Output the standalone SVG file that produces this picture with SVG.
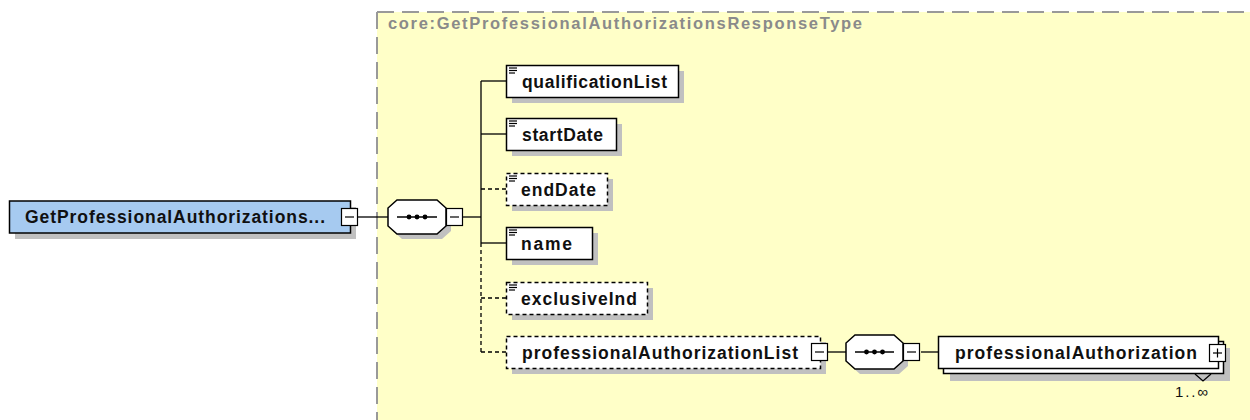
<svg xmlns="http://www.w3.org/2000/svg" width="1250" height="420" viewBox="0 0 1250 420">
  <defs>
    <style>
      .bg { fill: #FFFFC8; }
      .frame { stroke: #999999; stroke-width: 2; stroke-dasharray: 17 8; fill: none; }
      .title { font-family: "Liberation Sans", Arial, sans-serif; font-size: 16.5px; font-weight: bold; fill: #8a8a8a; }
      .shadow { fill: #C0C0C0; }
      .box { fill: #FFFFFF; stroke: #000000; stroke-width: 1.5; }
      .opt { fill: #FFFFFF; stroke: #000000; stroke-width: 1.5; stroke-dasharray: 4 3; }
      .root { fill: #A6CAF0; stroke: #000000; stroke-width: 1.5; }
      .label { font-family: "Liberation Sans", Arial, sans-serif; font-size: 17.5px; font-weight: bold; fill: #101010; }
      .occ { font-family: "Liberation Sans", Arial, sans-serif; font-size: 15px; fill: #101010; }
      .line { stroke: #000000; stroke-width: 1.3; fill: none; }
      .dline { stroke: #000000; stroke-width: 1.3; fill: none; stroke-dasharray: 4 3; }
      .btn { fill: #FFFFFF; stroke: #000000; stroke-width: 1.2; }
      .icon { stroke: #000000; stroke-width: 1.2; }
    </style>
  </defs>

  <!-- complex type container -->
  <g id="type-container">
    <rect class="bg" x="377" y="12" width="880" height="420"/>
    <line class="frame" x1="377" y1="12" x2="1250" y2="12"/>
    <line class="frame" x1="377" y1="12" x2="377" y2="420"/>
    <text class="title" x="388" y="29" textLength="474" lengthAdjust="spacing">core:GetProfessionalAuthorizationsResponseType</text>
  </g>

  <!-- connectors -->
  <g id="connectors">
    <line class="line" x1="358" y1="217" x2="388" y2="217"/>
    <line class="line" x1="463" y1="217" x2="481" y2="217"/>
    <line class="line" x1="481" y1="81" x2="481" y2="243"/>
    <line class="dline" x1="481" y1="243" x2="481" y2="352"/>
    <line class="line" x1="481" y1="81" x2="506" y2="81"/>
    <line class="line" x1="481" y1="134" x2="506" y2="134"/>
    <line class="dline" x1="481" y1="189" x2="506" y2="189"/>
    <line class="line" x1="481" y1="243" x2="506" y2="243"/>
    <line class="dline" x1="481" y1="298" x2="506" y2="298"/>
    <line class="dline" x1="481" y1="352" x2="506" y2="352"/>
    <line class="line" x1="828" y1="352" x2="846" y2="352"/>
    <line class="line" x1="921" y1="352" x2="939" y2="352"/>
  </g>

  <!-- root element -->
  <g id="root">
    <rect class="shadow" x="15" y="207" width="341" height="32"/>
    <rect class="root" x="9.5" y="201" width="341" height="32"/>
    <text class="label" x="25" y="223" textLength="300" lengthAdjust="spacing">GetProfessionalAuthorizations...</text>
    <rect class="btn" x="341.5" y="208.5" width="16" height="17"/>
    <line class="icon" x1="345" y1="217" x2="354" y2="217"/>
  </g>

  <!-- sequence 1 -->
  <g id="sequence1">
    <polygon class="shadow" points="402,205 442,205 451,213 451,231 442,239 402,239 393,231 393,213"/>
    <polygon class="box" points="397,200 437,200 446,208 446,226 437,234 397,234 388,226 388,208"/>
    <line class="line" x1="397" y1="217" x2="437" y2="217"/>
    <circle cx="409" cy="217" r="2.4"/>
    <circle cx="417" cy="217" r="2.4"/>
    <circle cx="425" cy="217" r="2.4"/>
    <rect class="btn" x="446.5" y="208.5" width="16" height="17"/>
    <line class="icon" x1="450" y1="217" x2="459" y2="217"/>
  </g>

  <!-- qualificationList -->
  <g id="qualificationList">
    <rect class="shadow" x="512" y="71" width="172" height="32"/>
    <rect class="box" x="506.5" y="65.5" width="172" height="32"/>
    <line class="icon" x1="509" y1="68" x2="517" y2="68"/>
    <line class="icon" x1="509" y1="70.5" x2="517" y2="70.5"/>
    <line class="icon" x1="509" y1="73" x2="515" y2="73"/>
    <text class="label" x="522" y="87.5" textLength="145" lengthAdjust="spacing">qualificationList</text>
  </g>

  <!-- startDate -->
  <g id="startDate">
    <rect class="shadow" x="512" y="124" width="110" height="32"/>
    <rect class="box" x="506.5" y="118.5" width="110" height="32"/>
    <line class="icon" x1="509" y1="121" x2="517" y2="121"/>
    <line class="icon" x1="509" y1="123.5" x2="517" y2="123.5"/>
    <line class="icon" x1="509" y1="126" x2="515" y2="126"/>
    <text class="label" x="522" y="140.5" textLength="81" lengthAdjust="spacing">startDate</text>
  </g>

  <!-- endDate -->
  <g id="endDate">
    <rect class="shadow" x="512" y="179" width="101" height="32"/>
    <rect class="opt" x="506.5" y="173.5" width="101" height="32"/>
    <line class="icon" x1="509" y1="176" x2="517" y2="176"/>
    <line class="icon" x1="509" y1="178.5" x2="517" y2="178.5"/>
    <line class="icon" x1="509" y1="181" x2="515" y2="181"/>
    <text class="label" x="521" y="195.5" textLength="75" lengthAdjust="spacing">endDate</text>
  </g>

  <!-- name -->
  <g id="name">
    <rect class="shadow" x="512" y="233" width="86" height="32"/>
    <rect class="box" x="506.5" y="227.5" width="86" height="32"/>
    <line class="icon" x1="509" y1="230" x2="517" y2="230"/>
    <line class="icon" x1="509" y1="232.5" x2="517" y2="232.5"/>
    <line class="icon" x1="509" y1="235" x2="515" y2="235"/>
    <text class="label" x="521" y="249.5" textLength="51" lengthAdjust="spacing">name</text>
  </g>

  <!-- exclusiveInd -->
  <g id="exclusiveInd">
    <rect class="shadow" x="512" y="288" width="141" height="32"/>
    <rect class="opt" x="506.5" y="282.5" width="141" height="32"/>
    <line class="icon" x1="509" y1="285" x2="517" y2="285"/>
    <line class="icon" x1="509" y1="287.5" x2="517" y2="287.5"/>
    <line class="icon" x1="509" y1="290" x2="515" y2="290"/>
    <text class="label" x="521" y="304.5" textLength="116" lengthAdjust="spacing">exclusiveInd</text>
  </g>

  <!-- professionalAuthorizationList -->
  <g id="professionalAuthorizationList">
    <rect class="shadow" x="512" y="342" width="314" height="32"/>
    <rect class="opt" x="506.5" y="336.5" width="314" height="32"/>
    <text class="label" x="522" y="358.5" textLength="276" lengthAdjust="spacing">professionalAuthorizationList</text>
    <rect class="btn" x="811.5" y="343.5" width="16" height="17"/>
    <line class="icon" x1="815" y1="352" x2="824" y2="352"/>
  </g>

  <!-- sequence 2 -->
  <g id="sequence2">
    <polygon class="shadow" points="860,340 899,340 908,348 908,366 899,374 860,374 851,366 851,348"/>
    <polygon class="box" points="855,335 894,335 903,343 903,361 894,369 855,369 846,361 846,343"/>
    <line class="line" x1="855" y1="352" x2="894" y2="352"/>
    <circle cx="866.5" cy="352" r="2.4"/>
    <circle cx="874.5" cy="352" r="2.4"/>
    <circle cx="882.5" cy="352" r="2.4"/>
    <rect class="btn" x="903.5" y="343.5" width="16" height="17"/>
    <line class="icon" x1="907" y1="352" x2="916" y2="352"/>
  </g>

  <!-- professionalAuthorization -->
  <g id="professionalAuthorization">
    <rect class="shadow" x="950" y="348" width="280" height="33"/>
    <rect class="box" x="943.5" y="341.5" width="280" height="32"/>
    <rect class="box" x="938.5" y="336.5" width="280" height="32"/>
    <text class="label" x="955" y="358.5" textLength="242" lengthAdjust="spacing">professionalAuthorization</text>
    <rect class="btn" x="1209.5" y="344.5" width="16" height="17"/>
    <line class="icon" x1="1213" y1="353" x2="1222" y2="353"/>
    <line class="icon" x1="1217.5" y1="348.5" x2="1217.5" y2="357.5"/>
    <polyline class="line" points="1195,374 1203,381 1211,374"/>
    <text class="occ" x="1175" y="397" textLength="33" lengthAdjust="spacing">1..∞</text>
  </g>
</svg>
